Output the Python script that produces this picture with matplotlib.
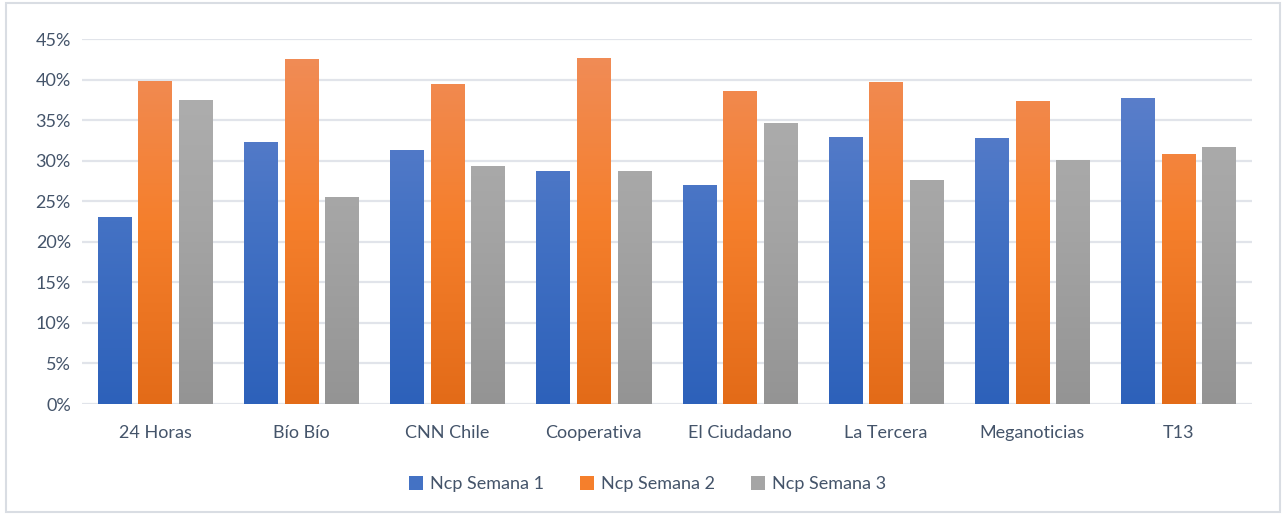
import numpy as np
import matplotlib.pyplot as plt
from matplotlib.colors import LinearSegmentedColormap
from matplotlib.patches import Rectangle, Patch
from matplotlib.ticker import FuncFormatter

plt.rcParams['font.family'] = ['Lato', 'DejaVu Sans']

medios = ['24 Horas', 'Bío Bío', 'CNN Chile', 'Cooperativa', 'El Ciudadano',
          'La Tercera', 'Meganoticias', 'T13']
semana1 = [23.0, 32.3, 31.3, 28.7, 27.0, 32.9, 32.8, 37.7]
semana2 = [39.8, 42.5, 39.5, 42.7, 38.6, 39.7, 37.4, 30.8]
semana3 = [37.5, 25.5, 29.3, 28.7, 34.6, 27.6, 30.1, 31.7]
series = ['Ncp Semana 1', 'Ncp Semana 2', 'Ncp Semana 3']

# top, middle, bottom colours of the Excel style gradient
grads = [('#6484CD', '#4472C4', '#2D61BA'),
         ('#F08D5B', '#F57F2C', '#E36B18'),
         ('#B1B1B1', '#A5A5A5', '#949494')]
text_col = '#44546A'

fig = plt.figure(figsize=(12.85, 5.14), dpi=100)
ax = fig.add_axes([0.0638, 0.214, 0.9103, 0.710])

x = np.arange(len(medios))
w = 0.229
step = 0.277
grad = np.linspace(1, 0, 256).reshape(-1, 1)

for i, vals in enumerate([semana1, semana2, semana3]):
    cmap = LinearSegmentedColormap.from_list('g%d' % i, [grads[i][2], grads[i][1], grads[i][0]])
    bars = ax.bar(x + (i - 1) * step, vals, width=w, color=grads[i][1], zorder=3)
    for b in bars:
        b.set_facecolor('none')
        bx, bw = b.get_x(), b.get_width()
        im = ax.imshow(grad, cmap=cmap, aspect='auto', extent=[bx, bx + bw, 0, 45],
                       vmin=0, vmax=1, zorder=3)
        im.set_clip_path(b)

ax.set_xlim(-0.5, len(medios) - 0.5)
ax.set_ylim(0, 45)
ax.set_yticks(np.arange(0, 46, 5))
ax.yaxis.set_major_formatter(FuncFormatter(lambda v, p: '%d%%' % v))
ax.set_xticks(x)
ax.set_xticklabels(medios)
ax.grid(axis='y', color='#E1E4EA', linewidth=1.6, zorder=0)
for s in ax.spines.values():
    s.set_visible(False)
ax.tick_params(length=0, labelsize=13, colors=text_col)
ax.tick_params(axis='x', pad=15)
ax.tick_params(axis='y', pad=8)

handles = [Patch(facecolor=grads[i][1], label=series[i]) for i in range(3)]
leg = fig.legend(handles=handles, loc='center', bbox_to_anchor=(0.504, 0.058), ncol=3,
                 frameon=False, fontsize=13, handlelength=0.75, handleheight=0.75,
                 columnspacing=2.0, handletextpad=0.4)
for t in leg.get_texts():
    t.set_color(text_col)

fig.patches.append(Rectangle((0.005, 0.004), 0.991, 0.99, transform=fig.transFigure,
                             fill=False, edgecolor='#D9DDE3', linewidth=1.5))

fig.savefig('out.png', dpi=100)
